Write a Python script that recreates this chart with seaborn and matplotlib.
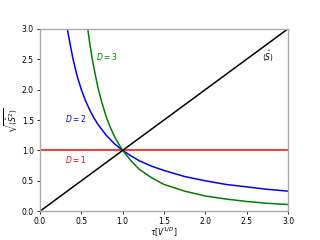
import matplotlib
matplotlib.use("Agg")
import matplotlib.pyplot as plt
import seaborn as sns
import pandas as pd

# D = 1 curve
x_d1 = [0.0, 3.0]
y_d1 = [1.0, 1.0]
# D = 2 curve
x_d2 = [0.33, 0.36, 0.4, 0.45, 0.5, 0.55, 0.6, 0.65, 0.7, 0.8, 0.9, 1.0, 1.1, 1.2,
        1.35, 1.5, 1.75, 2.0, 2.25, 2.5, 2.75, 3.0]
y_d2 = [3.0, 2.78, 2.5, 2.22, 2.0, 1.82, 1.67, 1.54, 1.43, 1.25, 1.11, 1.0, 0.91, 0.83,
        0.74, 0.67, 0.57, 0.5, 0.44, 0.4, 0.36, 0.33]
# D = 3 curve
x_d3 = [0.577, 0.6, 0.625, 0.65, 0.7, 0.75, 0.8, 0.85, 0.9, 0.95, 1.0, 1.1, 1.2, 1.35,
        1.5, 1.75, 2.0, 2.25, 2.5, 2.75, 3.0]
y_d3 = [3.0, 2.78, 2.56, 2.37, 2.04, 1.78, 1.56, 1.38, 1.23, 1.11, 1.0, 0.83, 0.69, 0.55,
        0.44, 0.33, 0.25, 0.2, 0.16, 0.13, 0.11]
# <S> line
x_s = [0.0, 3.0]
y_s = [0.0, 3.0]

fig, ax = plt.subplots(figsize=(3.2, 2.4), dpi=100)
fig.subplots_adjust(bottom=0.12)

lw = 1.1
sns.lineplot(x=x_d1, y=y_d1, ax=ax, color="red", lw=lw)
sns.lineplot(x=x_d2, y=y_d2, ax=ax, color="blue", lw=lw)
sns.lineplot(x=x_d3, y=y_d3, ax=ax, color="green", lw=lw)
sns.lineplot(x=x_s, y=y_s, ax=ax, color="black", lw=lw)

fs = 5.5
ax.text(0.3, 0.85, r"$D=1$", color="red", fontsize=fs, va="center")
ax.text(0.3, 1.53, r"$D=2$", color="blue", fontsize=fs, va="center")
ax.text(0.68, 2.55, r"$D=3$", color="green", fontsize=fs, va="center")
ax.text(2.68, 2.55, r"$\langle\hat{S}\rangle$", color="black", fontsize=fs, va="center")

ax.set_xlim(0, 3)
ax.set_ylim(0, 3)
ax.set_xticks([0, 0.5, 1.0, 1.5, 2.0, 2.5, 3.0])
ax.set_yticks([0, 0.5, 1.0, 1.5, 2.0, 2.5, 3.0])
ax.tick_params(labelsize=fs, length=2.5, width=0.6, pad=2)
ax.set_xlabel(r"$\tau[V^{1/D}]$", fontsize=fs, labelpad=-0.3)
ax.set_ylabel(r"$\sqrt{\langle\hat{S}^2\rangle}$", fontsize=fs, labelpad=1)
for s in ax.spines.values():
    s.set_color("#aaaaaa")
    s.set_linewidth(1.0)

fig.savefig("out.png", dpi=100)
